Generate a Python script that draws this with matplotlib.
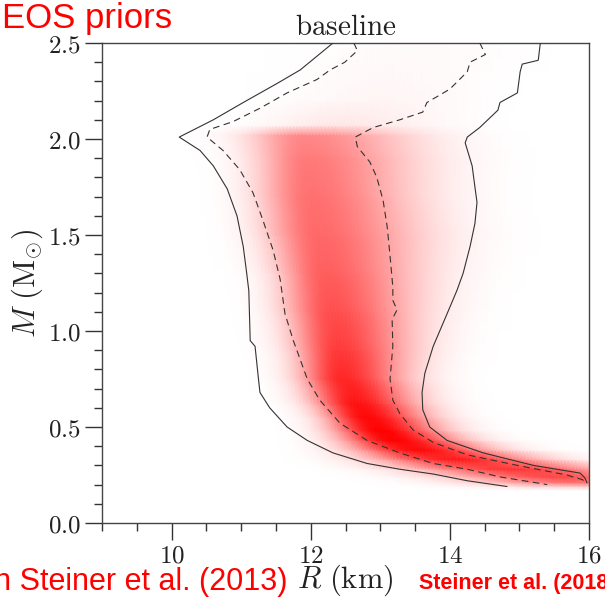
import numpy as np
import matplotlib
matplotlib.use("Agg")
import matplotlib.pyplot as plt
from matplotlib.colors import LinearSegmentedColormap
from matplotlib.ticker import MultipleLocator, FuncFormatter

plt.rcParams["mathtext.fontset"] = "cm"

# contornos (R en km, M en Msun)
# solido = 95%, discontinuo = 68%
sol_izq_R = [12.32, 11.85, 11.52, 11.03, 10.60, 10.11, 10.41, 10.60, 10.80, 10.94, 11.03, 11.08,
             11.11, 11.13, 11.20, 11.24, 11.27, 11.41, 11.66, 11.95, 12.32, 12.81, 13.28, 13.76,
             14.25, 14.82]
sol_izq_M = [2.50, 2.36, 2.29, 2.19, 2.10, 2.01, 1.94, 1.86, 1.74, 1.60, 1.44, 1.30,
             1.21, 0.95, 0.92, 0.78, 0.68, 0.60, 0.50, 0.43, 0.365, 0.31, 0.28, 0.255,
             0.22, 0.19]
sol_der_R = [15.30, 15.27, 15.04, 15.01, 14.97, 14.72, 14.69, 14.43, 14.25, 14.22, 14.32, 14.36,
             14.39, 14.36, 14.29, 14.19, 14.10, 13.96, 13.76, 13.64, 13.60, 13.61, 13.71, 13.96,
             14.48, 15.20, 15.87, 15.94, 15.97]
sol_der_M = [2.50, 2.41, 2.39, 2.35, 2.24, 2.19, 2.15, 2.06, 2.01, 1.98, 1.86, 1.75,
             1.67, 1.56, 1.44, 1.30, 1.21, 1.09, 0.92, 0.78, 0.68, 0.59, 0.50, 0.43,
             0.365, 0.30, 0.26, 0.235, 0.21]
dash_izq_R = [12.62, 12.67, 12.49, 12.28, 12.09, 11.66, 11.27, 10.88, 10.55, 10.51, 10.74, 10.98,
              11.17, 11.31, 11.46, 11.56, 11.63, 11.75, 11.85, 11.95, 12.13, 12.42, 12.81, 13.28,
              13.76, 14.25, 14.72, 15.40]
dash_izq_M = [2.50, 2.46, 2.40, 2.36, 2.31, 2.24, 2.16, 2.09, 2.05, 2.01, 1.94, 1.84,
              1.72, 1.58, 1.42, 1.27, 1.09, 0.95, 0.85, 0.75, 0.64, 0.52, 0.43, 0.365,
              0.31, 0.28, 0.24, 0.20]
dash_der_R = [14.43, 14.51, 14.29, 14.25, 14.00, 13.86, 13.67, 13.61, 13.28, 12.90, 12.64, 12.67,
              12.85, 12.95, 13.04, 13.10, 13.14, 13.18, 13.18, 13.24, 13.17, 13.18, 13.14, 13.18,
              13.28, 13.47, 13.76, 14.25, 14.97, 15.68, 15.91, 15.94]
dash_der_M = [2.50, 2.44, 2.40, 2.35, 2.26, 2.23, 2.19, 2.14, 2.10, 2.06, 2.01, 1.96,
              1.88, 1.80, 1.68, 1.54, 1.39, 1.23, 1.16, 1.11, 1.06, 0.92, 0.75, 0.64,
              0.57, 0.485, 0.42, 0.355, 0.30, 0.25, 0.225, 0.21]

# densidad: por fila de masa, radio del maximo, intensidad y anchos izq/der
filas_M = [2.50, 2.20, 2.07, 2.02, 1.90, 1.70, 1.50, 1.30, 1.10, 0.90, 0.75, 0.62,
           0.55, 0.48, 0.43, 0.38, 0.33, 0.28, 0.24, 0.21, 0.19, 0.17]
pico_R = [13.8, 13.0, 12.4, 11.9, 11.95, 12.0, 12.1, 12.2, 12.3, 12.4, 12.45, 12.65,
          12.8, 13.0, 13.2, 13.55, 14.1, 14.9, 15.6, 15.9, 16.0, 16.0]
pico_I = [0.02, 0.04, 0.10, 0.46, 0.52, 0.56, 0.59, 0.63, 0.69, 0.77, 0.85, 0.93,
          0.97, 1.0, 1.0, 0.97, 0.90, 0.80, 0.72, 0.55, 0.20, 0.0]
ancho_izq = [1.0, 0.9, 0.7, 0.55, 0.5, 0.5, 0.5, 0.45, 0.45, 0.42, 0.4, 0.4,
             0.4, 0.45, 0.5, 0.6, 0.75, 0.9, 1.0, 1.0, 1.0, 1.0]
ancho_der = [0.9, 0.9, 0.95, 1.05, 1.05, 1.0, 1.0, 0.9, 0.8, 0.7, 0.62, 0.6,
             0.6, 0.6, 0.65, 0.7, 0.8, 0.9, 0.6, 0.4, 0.4, 0.4]

Rg = np.linspace(9, 16, 141)
Z = []
for rc, pk, sl, sr in zip(pico_R, pico_I, ancho_izq, ancho_der):
    s = np.where(Rg < rc, sl, sr)
    Z.append(pk * np.exp(-0.5 * ((Rg - rc) / s) ** 2))
Z = np.array(Z)
orden = np.argsort(filas_M)
Mg = np.array(filas_M)[orden]
Z = Z[orden]

rojo = LinearSegmentedColormap.from_list("rojo", ["#ffffff", "#ff0000"])

fig = plt.figure(figsize=(6.05, 6.03), dpi=100)
ax = fig.add_axes([0.1686, 0.1327, 0.805, 0.796])
ax.pcolormesh(Rg, Mg, Z, shading="gouraud", cmap=rojo, vmin=0, vmax=1, zorder=1)

c = "#333333"
ax.plot(sol_izq_R, sol_izq_M, color=c, lw=0.8, zorder=3)
ax.plot(sol_der_R, sol_der_M, color=c, lw=0.8, zorder=3)
ax.plot(dash_izq_R, dash_izq_M, color=c, lw=0.8, ls=(0, (6, 4)), zorder=3)
ax.plot(dash_der_R, dash_der_M, color=c, lw=0.8, ls=(0, (6, 4)), zorder=3)

ax.set_xlim(9, 16)
ax.set_ylim(0, 2.5)
ax.xaxis.set_major_locator(MultipleLocator(2))
ax.xaxis.set_minor_locator(MultipleLocator(0.5))
ax.yaxis.set_major_locator(MultipleLocator(0.5))
ax.yaxis.set_minor_locator(MultipleLocator(0.1))
ax.xaxis.set_major_formatter(FuncFormatter(lambda v, p: f"${v:.0f}$"))
ax.yaxis.set_major_formatter(FuncFormatter(lambda v, p: f"${v:.1f}$"))
ax.tick_params(which="both", direction="out", top=False, right=False, width=1, color="#333333",
               labelsize=18, labelcolor="#222222", pad=3)
ax.tick_params(which="major", length=12)
ax.tick_params(which="minor", length=6)
for sp in ax.spines.values():
    sp.set_linewidth(1)
    sp.set_color("#444444")

ax.set_xlabel(r"$R\ (\mathrm{km})$", fontsize=22, color="#222222", labelpad=-4)
ax.set_ylabel(r"$M\ (\mathrm{M}_{\odot})$", fontsize=22, color="#222222", labelpad=2)
ax.set_title(r"$\mathrm{baseline}$", fontsize=21, color="#222222", pad=6)

# textos rojos de la diapositiva (recortados por el borde, como en el original)
fig.text(2 / 605, 1 - 28 / 603, "EOS priors", color="#ff0000", fontsize=25,
         family="Liberation Sans", ha="left", va="baseline")
fig.text(288 / 605, 1 - 590 / 603, "with Steiner et al. (2013)", color="#ff0000", fontsize=22,
         family="Liberation Sans", ha="right", va="baseline")
fig.text(419 / 605, 1 - 589 / 603, "Steiner et al. (2018)", color="#ff0000", fontsize=15.5,
         family="Liberation Sans", weight="bold", ha="left", va="baseline")

fig.savefig("out.png", dpi=100)
